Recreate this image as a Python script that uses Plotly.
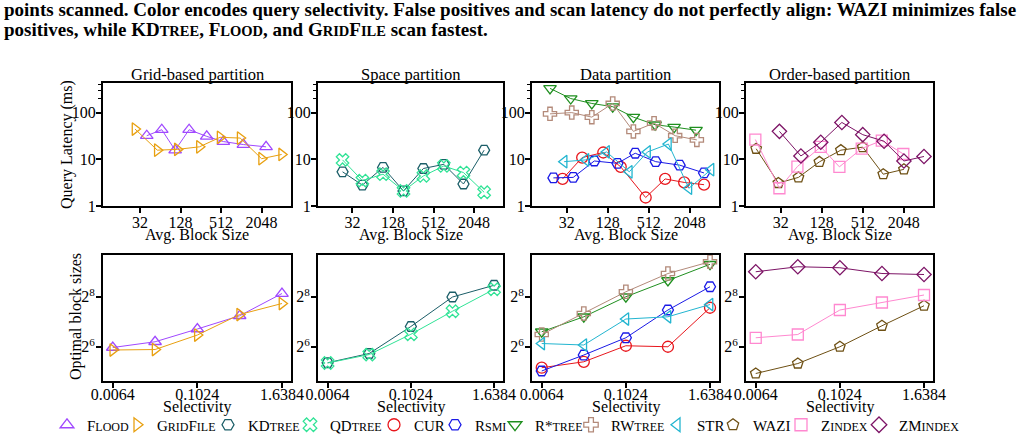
import plotly.graph_objects as go

W, H = 1021, 440
FONT = "Liberation Serif"

# ---------------- data: top row (avg. block size vs query latency, ms) ----------------
flood_bs = [40.2, 67.2, 106.2, 171.3, 313, 552.6, 1097, 2385]
flood_lat = [32, 43, 15.7, 43, 31, 24, 20.7, 18.5]
gridfile_bs = [26.9, 57.7, 114.5, 243.9, 494.6, 982.4, 2048, 4068]
gridfile_lat = [44.5, 15.7, 16.3, 18.5, 29.6, 28.5, 10.3, 12.7]

kdtree_bs = [22.8, 44.9, 91.1, 183.5, 362, 729, 1428, 2896]
kdtree_lat = [5.4, 2.8, 6.7, 2.1, 6.35, 7.8, 2.96, 15.7]
qdtree_bs = [22.8, 44.9, 91.1, 183.5, 362, 729, 1428, 2896]
qdtree_lat = [9.7, 3.5, 4.8, 2.1, 4.4, 7.2, 5.2, 1.97]

cur_bs = [27.7, 53.8, 109.9, 198.1, 461.4, 891.4, 1699, 3327]
cur_lat = [3.8, 10.9, 14, 6.9, 1.52, 3.8, 3.2, 2.86]
rsmi_bs = [20.3, 39.7, 81, 177.3, 324, 648, 1458, 3327]
rsmi_lat = [4.0, 4.1, 9.2, 8.2, 13.5, 8.9, 7.5, 5.1]
rstar_bs = [18.1, 36.5, 74.5, 151.2, 304.4, 634.8, 1209, 2539]
rstar_lat = [330, 200, 157, 134, 80, 55, 49, 42]
rwtree_bs = [18.1, 37.8, 74.5, 151.2, 304.4, 613.1, 1252, 2610]
rwtree_lat = [94, 100, 80, 157, 39.6, 59.5, 32, 26]
str_bs = [29.2, 61, 122.8, 265, 491.2, 996, 1992, 4211]
str_lat = [8.9, 9.7, 14.4, 5.4, 14.4, 21.2, 2.4, 6.0]

wazi_bs = [13.9, 29.4, 58.1, 117.8, 243.9, 512, 1024, 2062]
wazi_lat = [16.8, 3.1, 4.1, 8.8, 15.7, 18.2, 4.8, 6.1]
zindex_bs = [13.5, 30.5, 56.1, 123.6, 232.3, 494.6, 975.6, 2020]
zindex_lat = [26.5, 2.4, 7, 18.5, 6.9, 17, 25.2, 13]
zmindex_bs = [30.5, 63.1, 123.6, 252.5, 512, 1053, 2062, 4068]
zmindex_lat = [39.7, 11.8, 23.2, 61.5, 33.7, 24.4, 9.2, 11.5]

# ---------------- data: bottom row (selectivity vs optimal block size) ----------------
selectivity = [0.0064, 0.0256, 0.1024, 0.4096, 1.6384]
flood_opt = [62.7, 73.5, 104.7, 151.2, 280]
gridfile_opt = [58.5, 59.3, 88.6, 156.5, 212.3]
kdtree_opt = [41.1, 53.1, 112.2, 254.2, 352.1]
qdtree_opt = [40.8, 51.6, 90.5, 171.3, 315.2]
cur_opt = [35.8, 42.2, 65.8, 64, 188.7]
rsmi_opt = [32.7, 50.9, 82.1, 177.3, 337.8]
rstar_opt = [97, 147, 256, 401.7, 630.4]
rwtree_opt = [89.9, 160.9, 294.1, 487.7, 675.6]
str_opt = [70.0, 67.2, 138.1, 147, 206.5]
wazi_opt = [30.5, 40.2, 64, 114.5, 199.5]
zindex_opt = [82.1, 89.9, 177.3, 218.3, 268.7]
zmindex_opt = [512, 588, 572, 487.7, 474.3]

# ---------------- tick labels / titles ----------------
panel_titles = ["Grid-based partition", "Space partition", "Data partition", "Order-based partition"]
lat_tickvals = [1, 10, 100]
lat_ticktext = ["1", "10", "100"]
bs_tickvals = [32, 128, 512, 2048]
bs_ticktext = ["32", "128", "512", "2048"]
sel_tickvals = [0.0064, 0.1024, 1.6384]
sel_ticktext = ["0.0064", "0.1024", "1.6384"]
opt_tickvals = [64, 256]
opt_ticktext = ["2<sup>6</sup>", "2<sup>8</sup>"]


def sc(s):
    return '<span style="font-size:12px">' + s + '</span>'


# name, legend text, color, symbol, panel, top x, top y, bottom y, legend width
series = [
    ("Flood", "F" + sc("LOOD"), "#a048ff", "triangle-up-open", 0, flood_bs, flood_lat, flood_opt, 25),
    ("GridFile", "G" + sc("RID") + "F" + sc("ILE"), "#e8a010", "triangle-right-open", 0, gridfile_bs, gridfile_lat, gridfile_opt, 46),
    ("KDtree", "KD" + sc("TREE"), "#1b5e68", "hexagon2-open", 1, kdtree_bs, kdtree_lat, kdtree_opt, 37),
    ("QDtree", "QD" + sc("TREE"), "#30e396", "x-open", 1, qdtree_bs, qdtree_lat, qdtree_opt, 39),
    ("CUR", "CUR", "#e8161c", "circle-open", 2, cur_bs, cur_lat, cur_opt, 16),
    ("Rsmi", "R" + sc("SMI"), "#1a1ae6", "hexagon2-open", 2, rsmi_bs, rsmi_lat, rsmi_opt, 15),
    ("R*tree", "R*" + sc("TREE"), "#1f8f1f", "triangle-down-open", 2, rstar_bs, rstar_lat, rstar_opt, 31),
    ("RWtree", "RW" + sc("TREE"), "#b38a7a", "cross-open", 2, rwtree_bs, rwtree_lat, rwtree_opt, 41),
    ("STR", "STR", "#22b5d0", "triangle-left-open", 2, str_bs, str_lat, str_opt, 11),
    ("WAZI", "WAZI", "#6e5014", "pentagon-open", 3, wazi_bs, wazi_lat, wazi_opt, 23),
    ("Zindex", "Z" + sc("INDEX"), "#ff88d0", "square-open", 3, zindex_bs, zindex_lat, zindex_opt, 33),
    ("ZMindex", "ZM" + sc("INDEX"), "#7d1466", "diamond-open", 3, zmindex_bs, zmindex_lat, zmindex_opt, 65),
]

fig = go.Figure()

MS = 11
for name, ltext, color, sym, p, bx, by, oy, lw in series:
    marker = dict(symbol=sym, size=MS, color=color, line=dict(color=color, width=1.3))
    fig.add_trace(go.Scatter(
        x=bx, y=by, mode="lines+markers", name=name, showlegend=False,
        line=dict(color=color, width=1), marker=marker,
        xaxis="x" + str(p + 1), yaxis="y" + str(p + 1)))
    fig.add_trace(go.Scatter(
        x=selectivity, y=oy, mode="lines+markers", name=name, showlegend=False,
        line=dict(color=color, width=1), marker=marker,
        xaxis="x" + str(p + 5), yaxis="y" + str(p + 5)))
    # legend entry (marker only)
    fig.add_trace(go.Scatter(
        x=[None], y=[None], mode="markers", name=ltext, showlegend=True,
        marker=dict(symbol=sym, size=12, color=color, line=dict(color=color, width=1.3)),
        legendwidth=lw, xaxis="x1", yaxis="y1"))

xpx = [(103, 291), (318, 503), (532, 719), (746, 933)]
top_px = (83, 206)
bot_px = (255, 381)


def ydom(px):
    return [1 - px[1] / H, 1 - px[0] / H]


common = dict(showline=True, mirror=True, linewidth=2, linecolor="black",
              ticks="outside", ticklen=5, tickwidth=1.5, tickcolor="black",
              showgrid=False, zeroline=False,
              tickfont=dict(family=FONT, size=16, color="black"))

layout = {}
top_xranges = [[0.954, 3.748], [0.993, 3.742], [0.993, 3.742], [0.993, 3.742]]
for i in range(4):
    xd = [xpx[i][0] / W, xpx[i][1] / W]
    layout["xaxis" + str(i + 1)] = dict(common, domain=xd, type="log", range=top_xranges[i],
                                        tickvals=bs_tickvals, ticktext=bs_ticktext,
                                        ticklabelstandoff=-4, anchor="y" + str(i + 1))
    layout["yaxis" + str(i + 1)] = dict(common, domain=ydom(top_px), type="log", range=[0, 2.634],
                                        tickvals=lat_tickvals, ticktext=lat_ticktext,
                                        ticklabelstandoff=-3, anchor="x" + str(i + 1),
                                        minor=dict(ticks="outside", ticklen=3, tickwidth=1,
                                                   tickcolor="black", tickvals=[200, 300, 400],
                                                   showgrid=False))
    layout["xaxis" + str(i + 5)] = dict(common, domain=xd, type="log", range=[-2.333, 0.343],
                                        tickvals=sel_tickvals, ticktext=sel_ticktext,
                                        ticklabelstandoff=-7, anchor="y" + str(i + 5))
    layout["yaxis" + str(i + 5)] = dict(common, domain=ydom(bot_px), type="log", range=[1.394, 2.911],
                                        tickvals=opt_tickvals, ticktext=opt_ticktext,
                                        ticklabelstandoff=-2, anchor="x" + str(i + 5))

annotations = []
tfont = dict(family=FONT, size=16.5, color="black")
afont = dict(family=FONT, size=16, color="black")
for i in range(4):
    cx = (xpx[i][0] + xpx[i][1]) / 2 / W
    annotations.append(dict(text=panel_titles[i], x=cx, y=1 - 74 / H, xref="paper", yref="paper",
                            showarrow=False, xanchor="center", yanchor="middle", font=tfont))
    annotations.append(dict(text="Avg. Block Size", x=cx, y=1 - 235 / H, xref="paper", yref="paper",
                            showarrow=False, xanchor="center", yanchor="middle", font=afont))
    annotations.append(dict(text="Selectivity", x=cx, y=1 - 407 / H, xref="paper", yref="paper",
                            showarrow=False, xanchor="center", yanchor="middle", font=afont))
annotations.append(dict(text="Query Latency (ms)", x=67 / W, y=1 - 145 / H, xref="paper", yref="paper",
                        showarrow=False, xanchor="center", yanchor="middle", textangle=-90, font=afont))
annotations.append(dict(text="Optimal block sizes", x=76 / W, y=1 - 317 / H, xref="paper", yref="paper",
                        showarrow=False, xanchor="center", yanchor="middle", textangle=-90, font=afont))

cfont = dict(family=FONT, size=19, color="black")


def scb(s):
    return '<span style="font-size:14.5px">' + s + '</span>'


cap1 = ("<b>points scanned. Color encodes query selectivity. False positives and scan latency do not "
        "perfectly align: WAZI minimizes false</b>")
cap2 = ("<b>positives, while KD" + scb("TREE") + ", F" + scb("LOOD") + ", and G" + scb("RID") + "F"
        + scb("ILE") + " scan fastest.</b>")
annotations.append(dict(text=cap1, x=2 / W, y=1 - 9 / H, xref="paper", yref="paper", showarrow=False,
                        xanchor="left", yanchor="middle", font=cfont))
annotations.append(dict(text=cap2, x=2 / W, y=1 - 29 / H, xref="paper", yref="paper", showarrow=False,
                        xanchor="left", yanchor="middle", font=cfont))

fig.update_layout(
    width=W, height=H, margin=dict(l=0, r=0, t=0, b=0, autoexpand=False),
    paper_bgcolor="white", plot_bgcolor="white",
    font=dict(family=FONT, size=15, color="black"),
    annotations=annotations,
    showlegend=True,
    legend=dict(orientation="h", x=47 / W, xanchor="left", y=1 - 425 / H, yanchor="middle",
                font=dict(family=FONT, size=15, color="black"), bgcolor="rgba(0,0,0,0)",
                itemsizing="trace", tracegroupgap=0),
    **layout,
)

fig.write_html("out.html")
